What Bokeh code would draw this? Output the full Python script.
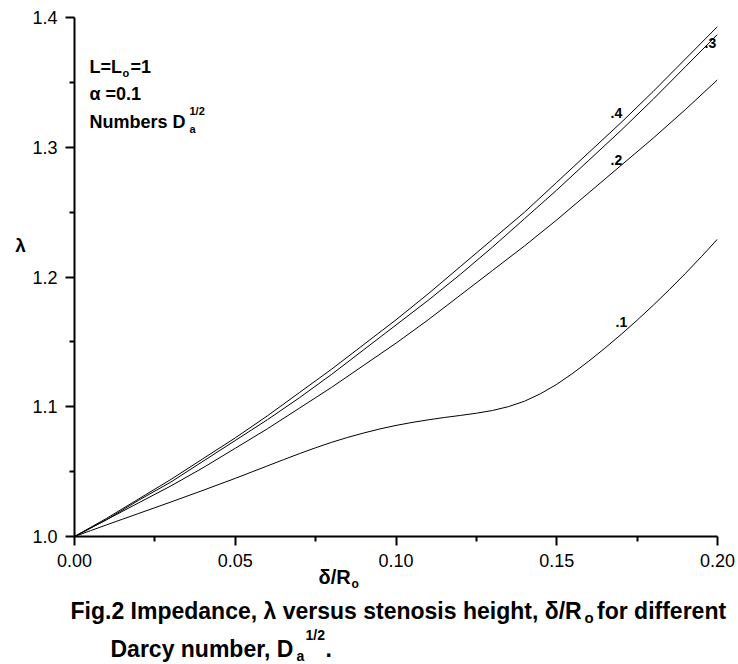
from bokeh.plotting import figure
from bokeh.models import Range1d, FixedTicker, NumeralTickFormatter, Label
from bokeh.embed import file_html
from bokeh.resources import INLINE

# ---- data ----
delta_fine = [0.000, 0.005, 0.010, 0.015, 0.020, 0.025, 0.030, 0.035, 0.040, 0.045,
              0.050, 0.055, 0.060, 0.065, 0.070, 0.075, 0.080, 0.085, 0.090, 0.095,
              0.100, 0.105, 0.110, 0.115, 0.120, 0.125, 0.130, 0.135, 0.140, 0.145,
              0.150, 0.155, 0.160, 0.165, 0.170, 0.175, 0.180, 0.185, 0.190, 0.195, 0.200]
lam_01 = [1.0000, 1.0045, 1.0090, 1.0134, 1.0178, 1.0222, 1.0266, 1.0311, 1.0356, 1.0402,
          1.0448, 1.0496, 1.0544, 1.0592, 1.0639, 1.0684, 1.0726, 1.0764, 1.0798, 1.0829,
          1.0856, 1.0879, 1.0899, 1.0917, 1.0933, 1.0950, 1.0971, 1.1001, 1.1043, 1.1101,
          1.1173, 1.1258, 1.1352, 1.1452, 1.1557, 1.1667, 1.1782, 1.1902, 1.2027, 1.2157, 1.2292]

delta = [0.00, 0.01, 0.02, 0.03, 0.04, 0.05, 0.06, 0.07, 0.08, 0.09, 0.10,
         0.11, 0.12, 0.13, 0.14, 0.15, 0.16, 0.17, 0.18, 0.19, 0.20]
lam_02 = [1.000, 1.013, 1.026, 1.039, 1.053, 1.068, 1.083, 1.099, 1.115, 1.132, 1.149,
          1.167, 1.186, 1.205, 1.224, 1.244, 1.265, 1.286, 1.307, 1.329, 1.352]
lam_03 = [1.000, 1.013, 1.028, 1.042, 1.058, 1.074, 1.090, 1.107, 1.125, 1.144, 1.163,
          1.182, 1.202, 1.223, 1.245, 1.267, 1.290, 1.313, 1.337, 1.362, 1.387]
lam_04 = [1.000, 1.014, 1.029, 1.044, 1.060, 1.076, 1.093, 1.111, 1.129, 1.148, 1.167,
          1.187, 1.208, 1.229, 1.250, 1.273, 1.296, 1.319, 1.343, 1.368, 1.393]
series_x = [delta_fine, delta, delta, delta]
series_y = [lam_01, lam_02, lam_03, lam_04]
series_names = [".1", ".2", ".3", ".4"]

x_ticks = [0.00, 0.05, 0.10, 0.15, 0.20]
x_minor = [0.025, 0.075, 0.125, 0.175]
y_ticks = [1.0, 1.1, 1.2, 1.3, 1.4]
y_minor = [1.05, 1.15, 1.25, 1.35]

W, H = 738, 664
FL, FR, FT, FB = 74, 717, 17, 536  # frame edges in pixels
X0, X1, Y0, Y1 = 0.0, 0.2, 1.0, 1.4
TEXT_SHIFT = 6  # labels render a few px below the requested baseline

p = figure(frame_width=FR - FL, frame_height=FB - FT,
           output_backend="svg", toolbar_location=None,
           x_range=Range1d(X0, X1), y_range=Range1d(Y0, Y1),
           min_border_left=FL, min_border_right=W - FR,
           min_border_top=FT, min_border_bottom=H - FB)
p.outline_line_color = None
p.grid.visible = False
p.background_fill_color = "white"
p.border_fill_color = "white"

for ax, tk, mn, fmt in ((p.xaxis[0], x_ticks, x_minor, "0.00"),
                        (p.yaxis[0], y_ticks, y_minor, "0.0")):
    ax.ticker = FixedTicker(ticks=tk, minor_ticks=mn)
    ax.formatter = NumeralTickFormatter(format=fmt)
    ax.axis_line_width = 2
    ax.axis_line_color = "black"
    ax.major_tick_line_width = 2
    ax.minor_tick_line_width = 2
    ax.major_tick_line_color = "black"
    ax.minor_tick_line_color = "black"
    ax.major_tick_out = 9
    ax.major_tick_in = 0
    ax.minor_tick_out = 5
    ax.minor_tick_in = 0
    ax.major_label_text_font = "Liberation Sans"
    ax.major_label_text_font_size = "18px"
    ax.major_label_text_color = "black"
    ax.major_label_standoff = 8

for xs, ys in zip(series_x, series_y):
    p.line(xs, ys, line_color="black", line_width=1)


def dx(px):
    return X0 + (px - FL) * (X1 - X0) / (FR - FL)


def dy(py):
    return Y0 + (FB - py) * (Y1 - Y0) / (FB - FT)


def txt(s, px, py, size, bold=True, align="left", place="center"):
    lab = Label(x=dx(px), y=dy(py - TEXT_SHIFT), text=s, text_font="Liberation Sans",
                text_font_size=f"{size}px",
                text_font_style="bold" if bold else "normal",
                text_color="black", text_align=align,
                text_baseline="alphabetic")
    if place == "center":
        p.add_layout(lab)
    else:
        p.add_layout(lab, place)


# curve labels
label_pos = [(615, 327), (610, 165), (704, 48), (610, 118)]
for name, (px, py) in zip(series_names, label_pos):
    txt(name, px, py, 14)

# parameter block
txt("L=L", 89, 72, 18)
txt("o", 122, 78, 11)
txt("=1", 130, 72, 18)
txt("\u03b1 =0.1", 89, 99, 18)
txt("Numbers D", 89, 127, 18)
txt("a", 189, 134, 11)
txt("1/2", 189, 116, 11)

# axis titles (outside the frame -> side panels)
txt("\u03bb", 20, 251, 19, align="center", place="left")
txt("\u03b4/R", 318, 582, 20, place="below")
txt("o", 351, 589, 12, place="below")

# caption
txt("Fig.2 Impedance, \u03bb versus stenosis height, \u03b4/R", 70, 616, 23, place="below")
txt("o", 584, 623, 15, place="below")
txt(" for different", 732, 616, 23, align="right", place="below")
txt("Darcy number, D", 110, 654, 23, place="below")
txt("a", 296, 661, 14, place="below")
txt("1/2", 305, 640, 14, place="below")
txt(".", 325, 654, 23, place="below")

open("out.html", "w").write(file_html(p, INLINE))
